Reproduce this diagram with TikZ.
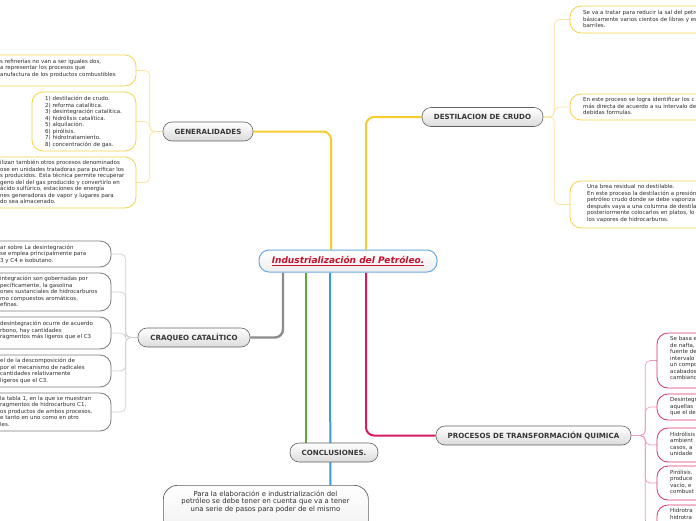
\documentclass[tikz,border=0pt]{standalone}
\usepackage{fontspec}
\setmainfont{DejaVu Sans}
\usetikzlibrary{backgrounds}
\definecolor{yel}{HTML}{F7CC2E}
\definecolor{yelB}{HTML}{F5D24A}
\definecolor{yelL}{HTML}{FBE3A0}
\definecolor{grayB}{HTML}{8C8C8C}
\definecolor{grayLeaf}{HTML}{7A7A7A}
\definecolor{grayL}{HTML}{CFCFCF}
\definecolor{pinkB}{HTML}{D81B60}
\definecolor{pinkLeaf}{HTML}{D8336F}
\definecolor{pinkL}{HTML}{EC9BBA}
\definecolor{greenB}{HTML}{5AAA3A}
\definecolor{blueB}{HTML}{3A9AE0}
\definecolor{cenB}{HTML}{6EA8DC}
\definecolor{cenT}{HTML}{C8102E}
\definecolor{txt}{HTML}{2E2E2E}
\tikzset{
 topic/.style={draw=black!62, line width=0.6pt, rounded corners=9pt, top color=white, bottom color=black!14, font=\fontsize{7.1}{8}\selectfont\bfseries, text=black!78, inner sep=0pt, minimum height=19pt},
 leaf/.style={draw=#1, line width=0.8pt, rounded corners=11pt, fill=white, inner sep=0pt, outer sep=0pt, anchor=north west},
 ltext/.style={anchor=north west, inner sep=0pt, align=left, font=\fontsize{5.5}{6.5}\selectfont, text=txt},
 branch/.style={line width=2pt, rounded corners=8pt},
 twig/.style={line width=0.7pt, rounded corners=5pt},
}
\begin{document}
\begin{tikzpicture}[x=1pt,y=-1pt]
\useasboundingbox (0,0) rectangle (696,520);
\clip (0,0) rectangle (696,520);

% central
\node[draw=cenB, line width=1pt, rounded corners=10pt, top color=white, bottom color=black!7, minimum width=178pt, minimum height=22pt, inner sep=0pt, font=\fontsize{9}{10}\selectfont\bfseries\itshape, text=cenT] (cen) at (348,261) {\underline{Industrialización del Petróleo.}};

% topics
\node[topic, minimum width=90pt] (gen) at (208,131.5) {GENERALIDADES};
\node[topic, minimum width=121pt] (dest) at (482.5,117) {DESTILACION DE CRUDO};
\node[topic, minimum width=112pt] (craq) at (194,337.5) {CRAQUEO CATALÍTICO};
\node[topic, minimum width=88pt] (conc) at (334,452.5) {CONCLUSIONES.};
\node[topic, minimum width=195pt] (proc) at (533.5,435.5) {PROCESOS DE TRANSFORMACIÓN QUIMICA};

% GENERALIDADES leaves
\node[leaf=yelB, minimum width=166pt, minimum height=31pt] (g1) at (-30,55) {};
\node[ltext] (g1t) at (0,58.5) {s refinerías no van a ser iguales dos,\\ a representar los procesos que\\anufactura de los productos combustibles};
\node[leaf=yelB, minimum width=104pt, minimum height=59pt] (g2) at (32,92) {};
\node[ltext] (g2t) at (45,96) {1) destilación de crudo.\\2) reforma catalítica.\\3) desintegración catalítica.\\4) hidrólisis catalítica.\\5) alquilación.\\6) pirólisis.\\7) hidrotratamiento.\\8) concentración de gas.};
\node[leaf=yelB, minimum width=166pt, minimum height=51pt] (g3) at (-30,157) {};
\node[ltext] (g3t) at (0,160) {ilizan también otros procesos denominados\\ose en unidades tratadoras para purificar los\\s producidos. Esta técnica permite recuperar\\geno del del gas producido y convertirlo en\\ ácido sulfúrico, estaciones de energía\\nes generadoras de vapor y lugares para\\do sea almacenado.};

% CRAQUEO leaves
\node[leaf=grayLeaf, minimum width=141pt, minimum height=26pt] (c1) at (-30,241) {};
\node[ltext] (c1t) at (0,244.5) {ar sobre La desintegración\\se emplea principalmente para\\3 y C4 e isobutano.};
\node[leaf=grayLeaf, minimum width=141pt, minimum height=38pt] (c2) at (-30,273) {};
\node[ltext] (c2t) at (0,276) {integración son gobernadas por\\pecíficamente, la gasolina\\ones sustanciales de hidrocarburos\\mo compuestos aromáticos,\\efinas.};
\node[leaf=grayLeaf, minimum width=141pt, minimum height=32pt] (c3) at (-30,317) {};
\node[ltext] (c3t) at (0,321) {desintegración ocurre de acuerdo\\rbono, hay cantidades\\ragmentos más ligeros que el C3};
\node[leaf=grayLeaf, minimum width=141pt, minimum height=32pt] (c4) at (-30,355) {};
\node[ltext] (c4t) at (0,358) {el de la descomposición de\\por el mecanismo de radicales\\ cantidades relativamente\\ligeros que el C3.};
\node[leaf=grayLeaf, minimum width=141pt, minimum height=38pt] (c5) at (-30,393) {};
\node[ltext] (c5t) at (0,396) {la tabla 1, en la que se muestran\\ragmentos de hidrocarburo C1,\\os productos de ambos procesos.\\e tanto en uno como en otro\\les.};

% DESTILACION leaves
\node[leaf=yelB, minimum width=200pt, minimum height=27pt] (d1) at (570,6) {};
\node[ltext] (d1t) at (583,10) {Se va a tratar para reducir la sal del petróleo\\básicamente varios cientos de libras y es\\barriles.};
\node[leaf=yelB, minimum width=200pt, minimum height=26pt] (d2) at (570,94) {};
\node[ltext] (d2t) at (583,97.5) {En este proceso se logra identificar los c\\más directa de acuerdo a su intervalo de\\debidas formulas.};
\node[leaf=yelB, minimum width=200pt, minimum height=47pt] (d3) at (570,181) {};
\node[ltext] (d3t) at (587,184.5) {Una brea residual no destilable.\\En este proceso la destilación a presión\\petróleo crudo donde se debe vaporiza\\después vaya a una columna de destila\\posteriormente colocarlos en platos, lo\\los vapores de hidrocarburos.};

% PROCESOS leaves
\node[leaf=pinkLeaf, minimum width=120pt, minimum height=55pt] (p1) at (657,333) {};
\node[ltext] (p1t) at (670,336.5) {Se basa e\\de nafta,\\fuente de\\intervalo\\un compo\\acabados\\cambiand};
\node[leaf=pinkLeaf, minimum width=120pt, minimum height=26pt] (p2) at (657,394) {};
\node[ltext] (p2t) at (670,397.5) {Desintegr\\aquellas\\que el de};
\node[leaf=pinkLeaf, minimum width=120pt, minimum height=34pt] (p3) at (657,428) {};
\node[ltext] (p3t) at (670,431.5) {Hidrólisis\\ambient\\casos, a\\unidade};
\node[leaf=pinkLeaf, minimum width=120pt, minimum height=34pt] (p4) at (657,466) {};
\node[ltext] (p4t) at (670,469.5) {Pirólisis.\\produce\\vacío, e\\combust};
\node[leaf=pinkLeaf, minimum width=120pt, minimum height=40pt] (p5) at (657,505) {};
\node[ltext] (p5t) at (670,508.5) {Hidrotra\\hidrotra};

% conclusion text
\node[draw=black!62, line width=0.7pt, rounded corners=14pt, top color=white, bottom color=black!6, minimum width=205pt, minimum height=50pt, inner sep=0pt, anchor=north west] (bx) at (163,485) {};
\node[anchor=north, inner sep=0pt, align=center, font=\fontsize{6.9}{7.5}\selectfont, text=txt] (bxt) at (265.5,490.5) {Para la elaboración e industrialización del\\petróleo se debe tener en cuenta que va a tener\\una serie de pasos para poder de el mismo};

\begin{scope}[on background layer]
\fill[white] (0,0) rectangle (696,520);
% main branches
\draw[branch, yel] ([xshift=-17pt]cen.north) |- (gen.east);
\draw[branch, yel] ([xshift=18pt]cen.north) |- (dest.west);
\draw[branch, grayB, line width=2.4pt] ([xshift=-65pt]cen.south) |- (craq.east);
\draw[branch, greenB] ([xshift=-42pt]cen.south) -- ([xshift=-28pt]conc.north);
\draw[branch, blueB] ([xshift=-18pt]cen.south) -- ([xshift=64.5pt]bx.north);
\draw[branch, pinkB] ([xshift=18pt]cen.south) |- (proc.west);
% twigs
\foreach \c in {g1,g2,g3} \draw[twig, yelL] (gen.west) -- ++(-13,0) |- (\c.east);
\foreach \c in {c1,c2,c3,c4,c5} \draw[twig, grayL] (craq.west) -- ++(-12,0) |- (\c.east);
\foreach \c in {d1,d2,d3} \draw[twig, yelL] (dest.east) -- ++(11,0) |- (\c.west);
\foreach \c in {p1,p2,p3,p4,p5} \draw[twig, pinkL] (proc.east) -- ++(14,0) |- (\c.west);
\end{scope}
\end{tikzpicture}
\end{document}
